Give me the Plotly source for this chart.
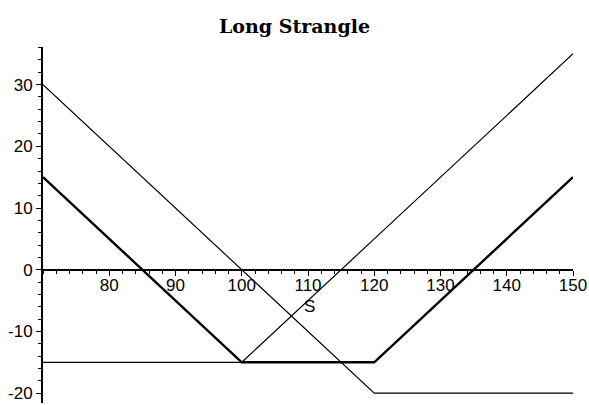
import plotly.graph_objects as go

S = [70, 100, 120, 150]
long_put = [30, 0, -20, -20]
long_call = [-15, -15, 5, 35]
strangle = [15, -15, -15, 15]

x_ticks = [80, 90, 100, 110, 120, 130, 140, 150]
y_ticks = [-20, -10, 0, 10, 20, 30]

y_min, y_max = -21.6, 36.1

fig = go.Figure()
fig.add_trace(go.Scatter(x=S, y=long_put, mode='lines', line=dict(color='black', width=1.2)))
fig.add_trace(go.Scatter(x=S, y=long_call, mode='lines', line=dict(color='black', width=1.2)))
fig.add_trace(go.Scatter(x=S, y=strangle, mode='lines', line=dict(color='black', width=2.4)))

fig.update_layout(
    width=589, height=405,
    margin=dict(l=43, r=16, t=47, b=2),
    paper_bgcolor='white', plot_bgcolor='white',
    showlegend=False, hovermode=False,
    font=dict(family="Liberation Sans, Arial, sans-serif", size=17, color='black'),
    title=dict(text='<b>Long Strangle</b>', x=0.5, xanchor='center', y=0.936, yanchor='middle',
               font=dict(family="DejaVu Serif, serif", size=19, color='black')),
    annotations=[dict(text='S', x=110.3, y=0, xref='x', yref='y', showarrow=False,
                      yshift=-37, font=dict(size=17))],
)
fig.update_xaxes(
    range=[70, 150], anchor='free', position=(0 - y_min) / (y_max - y_min), automargin=False,
    tickvals=x_ticks, ticktext=[str(v) for v in x_ticks], ticklabelstandoff=-5,
    showline=True, linecolor='black', linewidth=2, showgrid=False, zeroline=False,
    ticks='outside', ticklen=5, tickwidth=1, tickcolor='black',
    minor=dict(dtick=2, ticks='outside', ticklen=3, tickcolor='black'),
)
fig.update_yaxes(
    range=[y_min, y_max], automargin=False,
    tickvals=y_ticks, ticktext=[str(v) for v in y_ticks],
    showline=True, linecolor='black', linewidth=2, showgrid=False, zeroline=False,
    ticks='outside', ticklen=5, tickwidth=1, tickcolor='black',
    minor=dict(dtick=2, ticks='outside', ticklen=3, tickcolor='black'),
)

# drop the default page margin so the figure sits at the window's corner
fig.write_html("out.html", config={'displayModeBar': False},
               post_script="document.body.style.margin='0';document.body.style.overflow='hidden';")
